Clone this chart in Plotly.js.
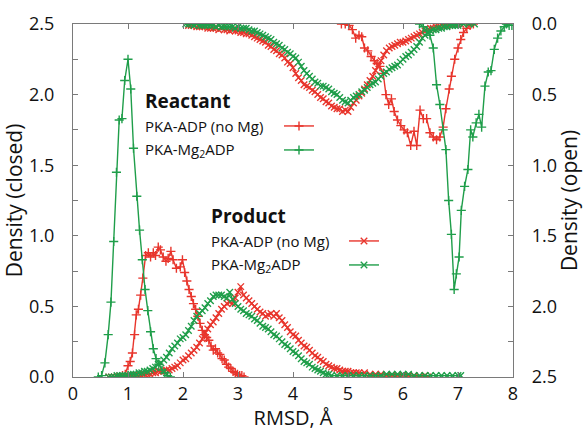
<!DOCTYPE html>
<html><head><meta charset="utf-8">
<script src="https://cdn.plot.ly/plotly-3.0.1.min.js"></script>
<style>html,body{margin:0;padding:0;background:#fff}#chart{width:583px;height:431px}</style>
</head><body><div id="chart"></div>
<script>
// Reactant, PKA-Mg2ADP, closed density (left axis)
const rcGreenX = [0.46,0.52,0.58,0.64,0.69,0.74,0.79,0.84,0.89,0.94,1.00,1.05,1.10,1.16,1.21,1.26,1.31,1.36,1.41,1.46,1.51,1.56,1.62,1.67,1.72,1.77];
const rcGreenY = [0.00,0.01,0.10,0.30,0.53,0.96,1.45,1.82,1.83,2.10,2.25,2.04,1.62,1.28,1.04,0.83,0.62,0.47,0.32,0.20,0.13,0.09,0.05,0.03,0.01,0.00];
// Reactant, PKA-ADP (no Mg), closed density
const rcRedX = [0.80,0.85,0.90,0.95,1.00,1.04,1.08,1.12,1.15,1.19,1.23,1.27,1.32,1.37,1.41,1.46,1.50,1.55,1.59,1.64,1.69,1.73,1.78,1.82,1.88,1.95,1.99,2.03,2.07,2.11,2.15,2.19,2.23,2.27,2.31,2.35,2.39,2.43,2.47,2.51,2.55,2.59,2.63,2.67,2.71,2.75,2.79,2.83,2.87,2.91,2.95,2.99,3.03,3.07,3.11];
const rcRedY = [0.00,0.00,0.01,0.02,0.08,0.11,0.17,0.30,0.44,0.48,0.58,0.70,0.86,0.88,0.85,0.88,0.86,0.92,0.90,0.85,0.82,0.84,0.89,0.83,0.77,0.78,0.83,0.74,0.68,0.62,0.57,0.52,0.48,0.43,0.38,0.33,0.30,0.28,0.26,0.22,0.19,0.20,0.17,0.16,0.13,0.12,0.09,0.07,0.06,0.04,0.03,0.02,0.01,0.01,0.00];
// Reactant, PKA-ADP (no Mg), open density (right axis)
const roRedX = [4.88,4.95,5.02,5.08,5.14,5.20,5.25,5.30,5.36,5.42,5.48,5.53,5.58,5.64,5.69,5.74,5.79,5.84,5.90,5.96,6.02,6.08,6.14,6.20,6.25,6.31,6.37,6.43,6.49,6.55,6.61,6.67,6.73,6.78,6.84,6.88,6.94,7.00,7.05,7.10,7.16,7.22,7.28];
const roRedY = [0.00,0.00,0.01,0.04,0.10,0.08,0.09,0.17,0.19,0.23,0.26,0.28,0.30,0.35,0.50,0.57,0.53,0.62,0.68,0.72,0.75,0.77,0.86,0.76,0.86,0.61,0.67,0.67,0.77,0.80,0.82,0.80,0.73,0.60,0.46,0.37,0.25,0.17,0.11,0.06,0.03,0.01,0.00];
// Reactant, PKA-Mg2ADP, open density
const roGreenX = [6.30,6.37,6.43,6.49,6.55,6.61,6.67,6.73,6.78,6.83,6.88,6.93,6.97,7.02,7.06,7.12,7.18,7.23,7.27,7.33,7.38,7.43,7.49,7.55,7.60,7.66,7.72,7.78,7.84,7.88,7.93,7.98];
const roGreenY = [0.00,0.02,0.05,0.08,0.17,0.43,0.57,0.75,0.89,1.25,1.49,1.88,1.77,1.65,1.32,1.15,1.03,0.75,0.80,0.70,0.64,0.73,0.44,0.34,0.33,0.18,0.10,0.05,0.02,0.00,0.01,0.01];
// Product, PKA-Mg2ADP, closed density
const pcGreenX = [0.65,0.70,0.75,0.80,0.85,0.90,0.95,1.00,1.05,1.10,
 1.15,1.20,1.25,1.30,1.35,1.40,1.45,1.50,1.55,1.60,
 1.65,1.70,1.75,1.80,1.85,1.90,1.95,2.00,2.05,2.10,
 2.15,2.20,2.25,2.30,2.35,2.40,2.45,2.50,2.55,2.60,
 2.65,2.70,2.75,2.80,2.85,2.90,2.95,3.00,3.05,3.10,
 3.15,3.20,3.25,3.30,3.35,3.40,3.45,3.50,3.55,3.60,
 3.65,3.70,3.75,3.80,3.85,3.90,3.95,4.00,4.05,4.10,
 4.15,4.20,4.25,4.30,4.35,4.40,4.45,4.50,4.55,4.60,
 4.65,4.70,4.80,4.90,5.00,5.10,5.20,5.30,5.40,5.50,
 5.60,5.70,5.80,5.90,6.00,6.10,6.20,6.30,6.40,6.50,
 6.60,6.70,6.80,6.90,7.00,7.05];
const pcGreenY = [0.00,0.00,0.00,0.01,0.01,0.01,0.01,0.01,0.02,0.02,
 0.02,0.03,0.03,0.04,0.04,0.05,0.06,0.07,0.09,0.10,
 0.12,0.14,0.17,0.20,0.22,0.24,0.27,0.28,0.30,0.33,
 0.36,0.40,0.43,0.45,0.47,0.49,0.52,0.54,0.57,0.58,
 0.58,0.58,0.57,0.56,0.60,0.55,0.52,0.50,0.48,0.47,
 0.45,0.44,0.43,0.41,0.40,0.38,0.36,0.35,0.34,0.32,
 0.30,0.29,0.27,0.25,0.23,0.22,0.20,0.18,0.17,0.15,
 0.13,0.11,0.10,0.09,0.07,0.06,0.05,0.04,0.03,0.02,
 0.02,0.01,0.01,0.01,0.01,0.01,0.01,0.01,0.01,0.01,
 0.01,0.02,0.02,0.02,0.02,0.02,0.01,0.01,0.01,0.01,
 0.01,0.01,0.01,0.01,0.01,0.01];
// Product, PKA-ADP (no Mg), closed density
const pcRedX = [0.65,0.70,0.75,0.80,0.85,0.90,0.95,1.00,1.05,1.10,
 1.15,1.20,1.25,1.30,1.35,1.40,1.45,1.50,1.55,1.60,
 1.65,1.70,1.75,1.80,1.85,1.90,1.95,2.00,2.05,2.10,
 2.15,2.20,2.25,2.30,2.35,2.40,2.45,2.50,2.55,2.60,
 2.65,2.70,2.75,2.80,2.85,2.90,2.95,3.00,3.05,3.10,
 3.15,3.20,3.25,3.30,3.35,3.40,3.45,3.50,3.55,3.60,
 3.65,3.70,3.75,3.80,3.85,3.90,3.95,4.00,4.05,4.10,
 4.15,4.20,4.25,4.30,4.35,4.40,4.45,4.50,4.55,4.60,
 4.65,4.70,4.75,4.80,4.85,4.90,4.95,5.00,5.05,5.10,
 5.15,5.20,5.30,5.40,5.50,5.60,5.70,5.80,5.90,6.00,
 6.10,6.20,6.30,6.40,6.45];
const pcRedY = [0.00,0.00,0.00,0.00,0.00,0.00,0.00,0.01,0.01,0.01,
 0.01,0.01,0.01,0.02,0.02,0.02,0.03,0.03,0.04,0.04,
 0.04,0.05,0.05,0.06,0.07,0.08,0.10,0.12,0.13,0.15,
 0.17,0.19,0.21,0.24,0.27,0.31,0.34,0.37,0.39,0.42,
 0.45,0.48,0.50,0.52,0.53,0.52,0.56,0.60,0.64,0.58,
 0.56,0.54,0.52,0.50,0.48,0.46,0.45,0.43,0.44,0.45,
 0.43,0.45,0.42,0.40,0.37,0.35,0.32,0.30,0.29,0.26,
 0.24,0.22,0.21,0.19,0.17,0.15,0.14,0.12,0.11,0.09,
 0.08,0.07,0.06,0.06,0.05,0.04,0.04,0.04,0.03,0.03,
 0.03,0.03,0.03,0.02,0.02,0.02,0.01,0.01,0.01,0.01,
 0.01,0.01,0.00,0.01,0.00];
// Product, PKA-Mg2ADP, open density
const poGreenX = [2.05,2.10,2.15,2.20,2.25,2.30,2.35,2.40,2.45,2.50,
 2.55,2.60,2.65,2.70,2.75,2.80,2.85,2.90,2.95,3.00,
 3.05,3.10,3.15,3.20,3.25,3.30,3.35,3.40,3.45,3.50,
 3.55,3.60,3.65,3.70,3.75,3.80,3.85,3.90,3.95,4.00,
 4.05,4.10,4.15,4.20,4.25,4.30,4.35,4.40,4.45,4.50,
 4.55,4.60,4.65,4.70,4.75,4.80,4.85,4.90,4.95,5.00,
 5.05,5.10,5.15,5.20,5.25,5.30,5.35,5.40,5.45,5.50,
 5.55,5.60,5.65,5.70,5.75,5.80,5.85,5.90,5.95,6.00,
 6.05,6.10,6.15,6.20,6.25,6.30,6.35,6.40,6.45,6.50,
 6.55,6.60,6.65,6.70,6.75,6.80,6.85,6.90,6.95,7.00,
 7.10,7.20,7.30];
const poGreenY = [0.00,0.00,0.00,0.01,0.00,0.01,0.01,0.01,0.01,0.01,
 0.01,0.02,0.01,0.02,0.02,0.02,0.02,0.02,0.03,0.02,
 0.03,0.03,0.03,0.04,0.05,0.05,0.06,0.07,0.08,0.09,
 0.10,0.11,0.13,0.14,0.15,0.17,0.18,0.20,0.21,0.23,
 0.24,0.27,0.30,0.33,0.35,0.37,0.39,0.41,0.42,0.44,
 0.44,0.45,0.46,0.48,0.49,0.50,0.52,0.54,0.55,0.56,
 0.54,0.52,0.51,0.50,0.48,0.47,0.45,0.43,0.42,0.41,
 0.39,0.37,0.35,0.34,0.32,0.31,0.30,0.29,0.27,0.25,
 0.23,0.22,0.20,0.18,0.16,0.13,0.10,0.08,0.06,0.05,
 0.04,0.04,0.03,0.03,0.02,0.02,0.01,0.01,0.01,0.01,
 0.00,0.00,0.00];
// Product, PKA-ADP (no Mg), open density
const poRedX = [2.10,2.15,2.20,2.25,2.30,2.35,2.40,2.45,2.50,2.55,
 2.60,2.65,2.70,2.75,2.80,2.85,2.90,2.95,3.00,3.05,
 3.10,3.15,3.20,3.25,3.30,3.35,3.40,3.45,3.50,3.55,
 3.60,3.65,3.70,3.75,3.80,3.85,3.90,3.95,4.00,4.05,
 4.10,4.15,4.20,4.25,4.30,4.35,4.40,4.45,4.50,4.55,
 4.60,4.65,4.70,4.75,4.80,4.85,4.90,4.95,5.00,5.05,
 5.10,5.15,5.20,5.25,5.30,5.35,5.40,5.45,5.50,5.55,
 5.60,5.65,5.70,5.75,5.80,5.85,5.90,5.95,6.00,6.05,
 6.10,6.15,6.20,6.25,6.30,6.35,6.40,6.45,6.50,6.55,
 6.60,6.65,6.70,6.75,6.80,6.85,6.90,6.95,7.00,7.05];
const poRedY = [0.01,0.01,0.01,0.02,0.02,0.02,0.02,0.03,0.03,0.03,
 0.03,0.04,0.03,0.04,0.04,0.05,0.04,0.05,0.05,0.06,
 0.06,0.07,0.07,0.08,0.09,0.10,0.11,0.12,0.13,0.15,
 0.16,0.18,0.19,0.21,0.22,0.24,0.27,0.28,0.31,0.35,
 0.38,0.40,0.43,0.44,0.45,0.47,0.48,0.50,0.52,0.53,
 0.55,0.56,0.58,0.59,0.60,0.60,0.62,0.61,0.62,0.59,
 0.56,0.54,0.51,0.49,0.46,0.43,0.40,0.37,0.33,0.30,
 0.26,0.22,0.19,0.17,0.16,0.15,0.14,0.13,0.13,0.12,
 0.11,0.10,0.09,0.08,0.07,0.06,0.05,0.04,0.03,0.03,
 0.02,0.02,0.01,0.01,0.01,0.00,0.00,0.00,0.00,0.00];

const legendLabels = ['PKA-ADP (no Mg)', 'PKA-Mg<sub>2</sub>ADP'];
const groupTitles = ['Reactant', 'Product'];

const RED = '#e8352c', GREEN = '#1f9e4a';
function trace(x, y, color, sym, yaxis, legendId, show) {
  const n = Math.min(x.length, y.length);
  return {
    x: x.slice(0, n), y: y.slice(0, n), type: 'scatter', mode: 'lines+markers',
    yaxis: yaxis, name: ' ', showlegend: show, legend: legendId || 'legend',
    hoverinfo: 'skip', cliponaxis: true,
    line: {color: color, width: 1.4},
    marker: {symbol: sym, size: 6.5, color: color, line: {color: color, width: 1.4}}
  };
}
const data = [
  trace(pcRedX, pcRedY, RED, 'x-thin', 'y', 'legend3', true),
  trace(poRedX, poRedY, RED, 'x-thin', 'y2', 'legend3', false),
  trace(rcRedX, rcRedY, RED, 'cross-thin', 'y', 'legend', true),
  trace(roRedX, roRedY, RED, 'cross-thin', 'y2', 'legend', false),
  trace(pcGreenX, pcGreenY, GREEN, 'x-thin', 'y', 'legend4', true),
  trace(poGreenX, poGreenY, GREEN, 'x-thin', 'y2', 'legend4', false),
  trace(rcGreenX, rcGreenY, GREEN, 'cross-thin', 'y', 'legend2', true),
  trace(roGreenX, roGreenY, GREEN, 'cross-thin', 'y2', 'legend2', false)
];

const L = 73, R = 513, T = 24, B = 377;
const px = v => (v - L) / (R - L);
const py = v => (B - v) / (B - T);
const AX = '#7a7a7a';
const tickfont = {size: 18, color: '#111'};
const leg = (xp, yp) => ({x: px(xp), y: py(yp), xanchor: 'left', yanchor: 'middle',
  bgcolor: 'rgba(0,0,0,0)', borderwidth: 0, font: {size: 13}, itemwidth: 30, tracegroupgap: 0});
function ann(text, xp, yp, size) {
  return {text: text, x: px(xp), y: py(yp), xref: 'paper', yref: 'paper', xanchor: 'left',
    yanchor: 'middle', showarrow: false, font: {size: size, color: '#111'}};
}
const layout = {
  width: 583, height: 431,
  margin: {l: L, r: 583 - R, t: T, b: 431 - B},
  paper_bgcolor: '#fff', plot_bgcolor: '#fff',
  font: {family: '"Open Sans", sans-serif', color: '#111'},
  showlegend: true,
  xaxis: {range: [0, 8], dtick: 1, tick0: 0, ticks: 'inside', ticklen: 5, tickcolor: AX,
    showline: true, linecolor: AX, linewidth: 1.2, mirror: 'ticks', showgrid: false, zeroline: false,
    tickfont: tickfont, title: {text: 'RMSD, Å', font: {size: 20}, standoff: 4}},
  yaxis: {range: [0, 2.5], dtick: 0.5, tick0: 0, tickformat: '.1f', ticks: 'inside', ticklen: 5,
    tickcolor: AX, showline: true, linecolor: AX, linewidth: 1.2, mirror: true, showgrid: false,
    zeroline: false, ticklabelstandoff: 14, tickfont: tickfont,
    minor: {dtick: 0.25, ticks: 'inside', ticklen: 5, tickcolor: AX},
    title: {text: 'Density (closed)', font: {size: 21}, standoff: 8}},
  yaxis2: {overlaying: 'y', side: 'right', range: [2.5, 0], dtick: 0.5, tick0: 0, tickformat: '.1f',
    ticks: 'inside', ticklen: 5, tickcolor: AX, showline: true, linecolor: AX, linewidth: 1.2,
    showgrid: false, zeroline: false, ticklabelstandoff: 14, tickfont: tickfont,
    minor: {dtick: 0.25, ticks: 'inside', ticklen: 5, tickcolor: AX},
    title: {text: 'Density (open)', font: {size: 21}, standoff: 6}},
  legend: leg(279, 126),
  legend2: leg(279, 150),
  legend3: leg(344, 241),
  legend4: leg(344, 265),
  annotations: [
    ann('<b>' + groupTitles[0] + '</b>', 143, 101, 19),
    ann(legendLabels[0], 143, 126, 15),
    ann(legendLabels[1], 143, 150, 15),
    ann('<b>' + groupTitles[1] + '</b>', 209, 216, 19),
    ann(legendLabels[0], 209, 241, 15),
    ann(legendLabels[1], 209, 265, 15)
  ]
};
Plotly.newPlot('chart', data, layout, {displayModeBar: false, staticPlot: true});
</script>
</body></html>
